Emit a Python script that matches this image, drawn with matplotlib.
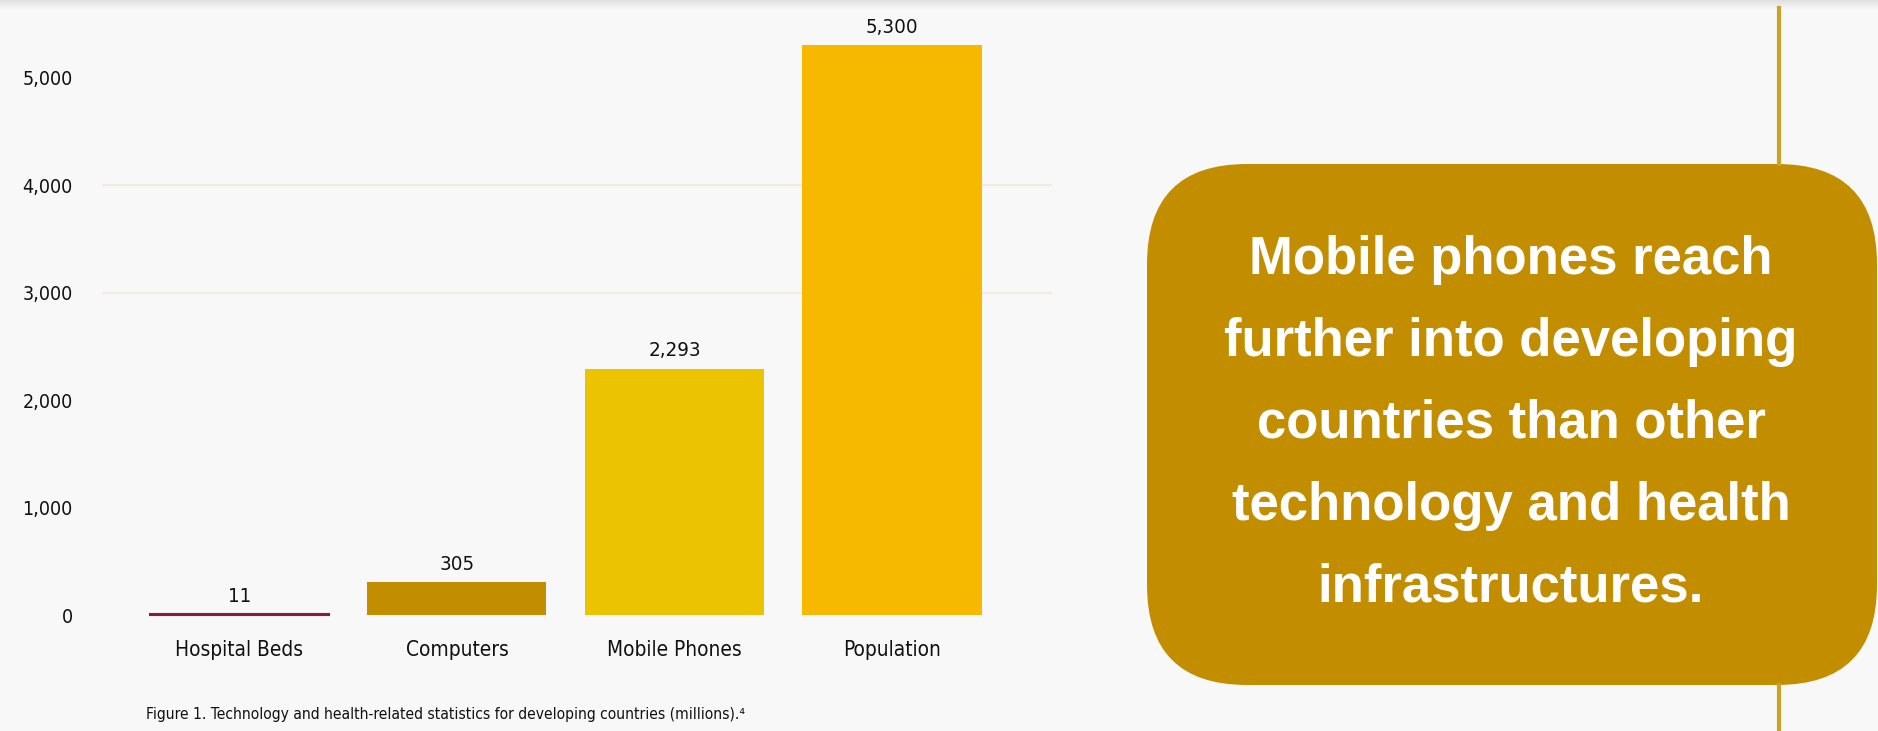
import os
import numpy as np
import matplotlib
matplotlib.use("Agg")
import matplotlib.pyplot as plt
import matplotlib.font_manager as fm
from matplotlib.patches import FancyBboxPatch

# datos del grafico (millones)
categorias = ["Hospital Beds", "Computers", "Mobile Phones", "Population"]
valores = [11, 305, 2293, 5300]
etiquetas_valor = ["11", "305", "2,293", "5,300"]
colores = ["#8E1B33", "#C28E00", "#EBC300", "#F7B900"]
ticks_y = [0, 1000, 2000, 3000, 4000, 5000]
ticks_y_txt = ["0", "1,000", "2,000", "3,000", "4,000", "5,000"]
grilla_y = [3000, 4000]
leyenda = "Figure 1. Technology and health-related statistics for developing countries (millions).\u2074"
frase = ["Mobile phones reach", "further into developing", "countries than other",
         "technology and health", "infrastructures."]

fondo = "#F8F8F8"
oro = "#C28E00"


def fuente_estrecha():
    # busca una letra condensada entre las instaladas
    archivos = [f.fname for f in fm.fontManager.ttflist]
    preferidas = ["liberationsansnarrow-regular", "dejavusanscondensed.ttf",
                  "robotocondensed-regular", "notosans-condensed.ttf",
                  "opensans_condensed-regular", "opensans-condensed"]
    for p in preferidas:
        for a in archivos:
            if p in os.path.basename(a).lower():
                return fm.FontProperties(fname=a)
    for a in archivos:
        b = os.path.basename(a).lower()
        if ("condensed" in b or "narrow" in b) and not any(
                k in b for k in ("bold", "italic", "oblique", "light", "thin", "black", "semi", "extra", "medium")):
            return fm.FontProperties(fname=a)
    return fm.FontProperties(family="DejaVu Sans")


fp = fuente_estrecha()

fig = plt.figure(figsize=(18.78, 7.31), dpi=100, facecolor=fondo)

ax = fig.add_axes([0.0543, 0.1436, 0.5058, 0.8384], facecolor=fondo)
x = np.arange(len(categorias))
barras = ax.bar(x, valores, width=0.823, color=colores, zorder=3)
barras[0].set_edgecolor(colores[0])
barras[0].set_linewidth(1.5)
textos_valor = []
for b, t in zip(barras, etiquetas_valor):
    textos_valor.append(ax.annotate(t, (b.get_x() + b.get_width() / 2, b.get_height()),
                                    xytext=(0, 6), textcoords="offset points", ha="center",
                                    va="bottom", fontproperties=fp, color="#111111"))
for g in grilla_y:
    ax.axhline(g, color="#F2EDDB", lw=1.5, zorder=1)

ax.set_xlim(-0.632, 3.735)
ax.set_ylim(-100, 5600)
ax.set_xticks(x)
ax.set_xticklabels(categorias, fontproperties=fp, color="#111111")
ax.set_yticks(ticks_y)
ax.set_yticklabels(ticks_y_txt, fontproperties=fp, color="#111111")
ax.tick_params(axis="x", length=0, pad=10)
ax.tick_params(axis="y", length=0, pad=21)
for s in ax.spines.values():
    s.set_visible(False)

pie = fig.text(446 / 1878, 1 - 715 / 731, leyenda, ha="center", va="center",
               fontproperties=fp, color="#111111")

# ajusta los tamanos para que el ancho se acerque a la referencia
fig.canvas.draw()
rend = fig.canvas.get_renderer()


def ajustar(grupo, muestra, ancho):
    w = muestra.get_window_extent(rend).width
    tam = muestra.get_fontsize() * ancho / w
    for t in grupo:
        t.set_fontsize(tam)


ajustar(ax.get_yticklabels(), ax.get_yticklabels()[5], 51)
ajustar(ax.get_xticklabels(), ax.get_xticklabels()[0], 128)
ajustar(textos_valor, textos_valor[2], 52)
ajustar([pie], pie, 600)

# capa en pixeles para la caja de la derecha
capa = fig.add_axes([0, 0, 1, 1], facecolor="none")
capa.set_xlim(0, 1878)
capa.set_ylim(731, 0)
capa.axis("off")

sombra = np.linspace(0.88, 0.973, 12).reshape(-1, 1)
capa.imshow(sombra, cmap="gray", vmin=0, vmax=1, extent=(0, 1878, 10, 0), aspect="auto")

capa.plot([1779, 1779], [8, 164], color="#C9A227", lw=3)
capa.plot([1779, 1779], [685, 731], color="#C9A227", lw=3)
caja = FancyBboxPatch((1147, 164), 1877 - 1147, 685 - 164,
                      boxstyle="round,pad=0,rounding_size=100",
                      facecolor=oro, edgecolor="none")
capa.add_patch(caja)
for i, linea in enumerate(frase):
    capa.text(1511, 260 + i * 82, linea, ha="center", va="center",
              fontsize=38, fontweight="bold", family=["Liberation Sans", "DejaVu Sans"],
              color="white")
capa.set_xlim(0, 1878)
capa.set_ylim(731, 0)

fig.savefig("out.png", dpi=100, facecolor=fondo)
